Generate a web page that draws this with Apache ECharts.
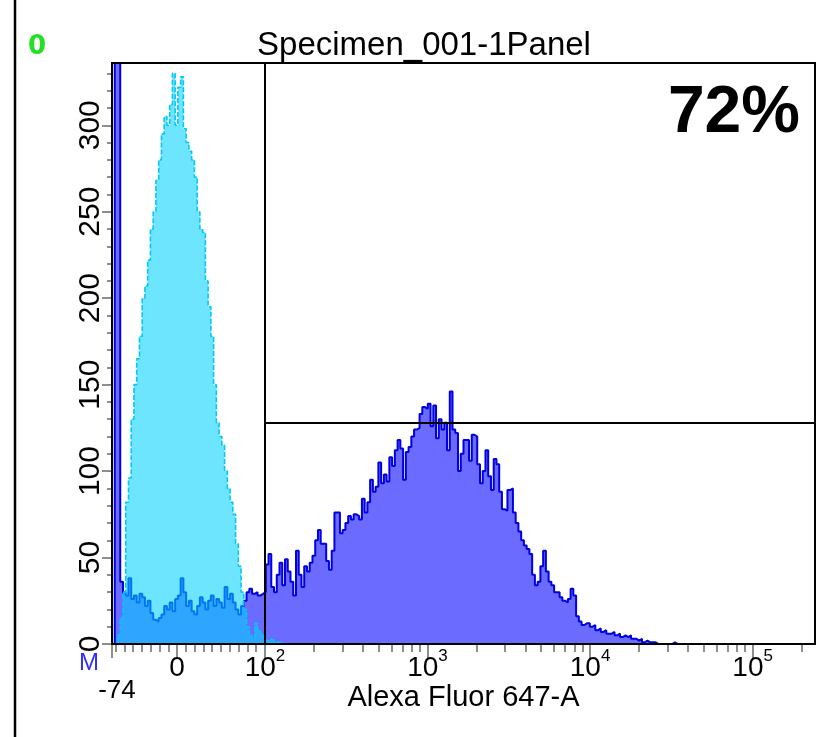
<!DOCTYPE html>
<html><head><meta charset="utf-8">
<script src="https://cdn.jsdelivr.net/npm/echarts@6/dist/echarts.min.js"></script>
<style>html,body{margin:0;padding:0;background:#fff}#c{width:827px;height:737px}</style>
</head><body><div id="c"></div>
<script>
// ---------- text ----------
const chartTitle = 'Specimen_001-1Panel';
const xAxisTitle = 'Alexa Fluor 647-A';
const gatePercent = '72%';
const panelTag = '0';
const markerTag = 'M';

// ---------- x axis (biexponential display, 256 channels) ----------
const binCount = 256;
const xMinValue = -74;
const xMajorTicks = [-74, 0, 100, 1000, 10000, 100000];
const xMajorLabels = ['-74', '0', '10^2', '10^3', '10^4', '10^5'];
const xMinorTicks = [-70, -60, -50, -40, -30, -20, -10, 10, 20, 30, 40, 50, 60, 70, 80, 90,
  200, 300, 400, 500, 600, 700, 800, 900,
  2000, 3000, 4000, 5000, 6000, 7000, 8000, 9000,
  20000, 30000, 40000, 50000, 60000, 70000, 80000, 90000, 200000];

// ---------- y axis ----------
const yMax = 336;
const yMajorTicks = [0, 50, 100, 150, 200, 250, 300];
const yMinorTicks = [10, 20, 30, 40, 60, 70, 80, 90, 110, 120, 130, 140, 160, 170, 180, 190,
  210, 220, 230, 240, 260, 270, 280, 290, 310, 320, 330];

// ---------- gates ----------
const gateX = 100;
const gateY = 128;

// ---------- histogram counts (per display channel) ----------
const blueStartBin = 0;
const blueCounts = [
  0, 1000, 1000, 36, 30, 28, 38, 26, 28, 24, 29, 27, 22, 25, 18, 14, 13, 15, 17, 22,
  20, 24, 19, 26, 28, 38, 30, 22, 25, 19, 17, 22, 27, 24, 20, 25, 28, 22, 26, 24,
  21, 33, 26, 29, 24, 20, 17, 22, 25, 30, 32, 29, 30, 28, 29, 30, 46, 52, 33, 30,
  40, 47, 34, 49, 42, 36, 28, 54, 40, 33, 45, 42, 47, 51, 60, 66, 58, 58, 48, 43,
  54, 76, 76, 64, 66, 70, 74, 72, 75, 74, 72, 84, 76, 82, 95, 88, 91, 105, 93, 98,
  94, 108, 103, 112, 118, 113, 95, 111, 114, 120, 124, 125, 133, 137, 136, 139, 126, 138, 119, 130,
  124, 128, 112, 146, 124, 122, 100, 110, 118, 118, 106, 121, 120, 104, 93, 100, 112, 97, 89, 107,
  104, 88, 78, 77, 89, 90, 76, 70, 65, 60, 57, 55, 52, 40, 34, 36, 45, 54, 42, 36,
  34, 30, 30, 27, 25, 24, 26, 32, 28, 16, 13, 11, 12, 12, 10, 11, 8, 9, 7, 8,
  6, 6, 7, 5, 6, 4, 5, 4, 5, 3, 3, 2, 3, 1, 2, 1, 1, 1, 0, 0,
  0, 0, 0, 0, 1
];
const cyanStartBin = 2;
const cyanCounts = [
  5, 15, 30, 82, 96, 130, 150, 165, 178, 200, 207, 222, 240, 250, 268, 280, 295, 305, 300, 312,
  330, 300, 322, 328, 298, 290, 285, 280, 270, 250, 240, 238, 210, 195, 178, 150, 128, 120, 115, 100,
  90, 82, 75, 58, 45, 30, 20, 10, 5, 3, 12, 8, 6, 4, 2, 3, 2, 1, 1, 1
];

// ---------- display transform (value -> channel) ----------
function toChannel(v) {
  if (v >= 100) return 55.7 + (Math.log10(v) - 2) * 59.2;
  return (v - xMinValue) * 55.7 / (100 - xMinValue);
}
function histData(start, counts) {
  const out = [];
  for (let i = 0; i < binCount; i++) {
    const k = i - start;
    out.push([i, (k >= 0 && k < counts.length) ? counts[k] : 0]);
  }
  out.push([binCount, 0]);
  return out;
}

const majorCh = xMajorTicks.map(toChannel);
const minorCh = xMinorTicks.map(toChannel);
const gateCh = toChannel(gateX);

const narrow = '"Liberation Sans Narrow", "Arial Narrow", "Liberation Sans", Arial, sans-serif';
const sans = '"Liberation Sans", Arial, sans-serif';
const tickColor = '#6a6a6a';

const chart = echarts.init(document.getElementById('c'), null, {renderer: 'canvas'});
chart.setOption({
  animation: false,
  backgroundColor: '#fff',
  grid: {left: 112, right: 12, top: 63, bottom: 93, show: false},
  xAxis: [{
    type: 'value', min: 0, max: binCount, position: 'bottom',
    axisLine: {show: false}, splitLine: {show: false},
    axisTick: {show: true, length: 14, customValues: majorCh, lineStyle: {color: tickColor, width: 1.5}},
    axisLabel: {
      customValues: majorCh, margin: 4, color: '#000',
      formatter: function (val) {
        let idx = 0, best = 1e9;
        majorCh.forEach((c, i) => { if (Math.abs(c - val) < best) { best = Math.abs(c - val); idx = i; } });
        const lab = xMajorLabels[idx];
        if (lab.indexOf('^') >= 0) {
          const p = lab.split('^');
          return '{n|' + p[0] + '}{s|' + p[1] + '}';
        }
        if (lab.charAt(0) === '-') return '{e|}\n{m|' + lab + '}';
        return '{n|' + lab + '}';
      },
      rich: {
        n: {fontSize: 28, lineHeight: 34, fontFamily: narrow, color: '#000', verticalAlign: 'bottom'},
        s: {fontSize: 17, lineHeight: 17, fontFamily: narrow, color: '#000', verticalAlign: 'top'},
        e: {fontSize: 10, lineHeight: 28},
        m: {fontSize: 26, lineHeight: 30, fontFamily: narrow, color: '#000', padding: [0, 0, 0, 10]}
      }
    },
    name: xAxisTitle, nameLocation: 'middle', nameGap: 39, nameMoveOverlap: false,
    nameTextStyle: {fontSize: 29, fontFamily: sans, color: '#000'}
  }, {
    type: 'value', min: 0, max: binCount, position: 'bottom',
    axisLine: {show: false}, splitLine: {show: false},
    axisTick: {show: true, length: 8, customValues: minorCh, lineStyle: {color: tickColor, width: 1.5}},
    axisLabel: {show: false}
  }],
  yAxis: [{
    type: 'value', min: 0, max: yMax, position: 'left',
    axisLine: {show: false}, splitLine: {show: false},
    axisTick: {show: true, length: 10, customValues: yMajorTicks, lineStyle: {color: tickColor, width: 1.5}},
    axisLabel: {customValues: yMajorTicks, rotate: 90, margin: 6, fontSize: 30, fontFamily: narrow, color: '#000'}
  }, {
    type: 'value', min: 0, max: yMax, position: 'left',
    axisLine: {show: false}, splitLine: {show: false},
    axisTick: {show: true, length: 5, customValues: yMinorTicks, lineStyle: {color: tickColor, width: 1.5}},
    axisLabel: {show: false}
  }],
  series: [{
    name: 'sample', type: 'line', step: 'end', z: 2,
    data: histData(blueStartBin, blueCounts),
    symbol: 'none',
    lineStyle: {color: '#0000E0', width: 2},
    areaStyle: {color: '#6B6BFF', opacity: 1}
  }, {
    name: 'control', type: 'line', step: 'end', z: 3,
    data: histData(cyanStartBin, cyanCounts),
    symbol: 'none',
    lineStyle: {color: '#00C8F8', width: 1.6, type: [5, 2]},
    areaStyle: {color: 'rgba(0,209,255,0.57)', opacity: 1},
    markLine: {
      silent: true, symbol: 'none', animation: false,
      label: {show: false},
      lineStyle: {color: '#000', width: 2, type: 'solid'},
      data: [
        [{coord: [gateCh, 0]}, {coord: [gateCh, yMax]}],
        [{coord: [gateCh, gateY]}, {coord: [binCount, gateY]}]
      ]
    }
  }],
  graphic: [
    {type: 'rect', z: 100, shape: {x: 112, y: 63, width: 703, height: 581},
     style: {fill: null, stroke: '#000', lineWidth: 2}},
    {type: 'line', z: 100, shape: {x1: 15, y1: 0, x2: 15, y2: 737},
     style: {stroke: '#000', lineWidth: 2.5}},
    {type: 'text', z: 100, x: 424, y: 46,
     style: {text: chartTitle, font: '33px ' + sans, fill: '#000', textAlign: 'center', textVerticalAlign: 'middle'}},
    {type: 'text', z: 100, x: 37, y: 47,
     style: {text: panelTag, font: 'bold 26px "DejaVu Sans", sans-serif', fill: '#22E022', textAlign: 'center', textVerticalAlign: 'middle'}},
    {type: 'text', z: 100, x: 800, y: 114,
     style: {text: gatePercent, font: 'bold 66px ' + sans, fill: '#000', textAlign: 'right', textVerticalAlign: 'middle'}},
    {type: 'text', z: 100, x: 89, y: 663,
     style: {text: markerTag, font: '24px ' + narrow, fill: '#3030FF', textAlign: 'center', textVerticalAlign: 'middle'}}
  ]
});
</script></body></html>
